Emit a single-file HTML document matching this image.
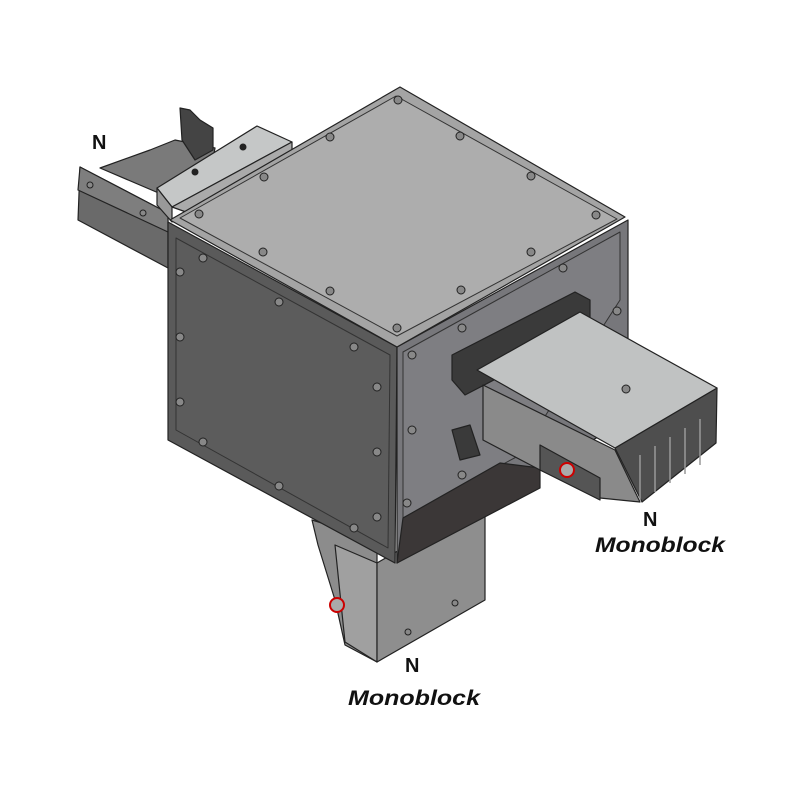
<!DOCTYPE html>
<html><head><meta charset="utf-8"><style>
html,body{margin:0;padding:0;background:#fff;}
svg{display:block}
text{font-family:"Liberation Sans",Arial,sans-serif;font-weight:bold;fill:#111}
</style></head><body>
<svg width="800" height="800" viewBox="0 0 800 800" xmlns="http://www.w3.org/2000/svg">
<g stroke="#222" stroke-width="1.2" stroke-linejoin="round">
<!-- left duct -->
<polygon points="100,168 150,150 175,140 215,148 212,165 175,200" fill="#7a7a7a"/>
<polygon points="180,108 190,110 200,120 213,128 213,150 195,160 182,140" fill="#444"/>
<polygon points="80,167 168,213 168,268 78,220" fill="#6a6a6a"/>
<polygon points="80,167 168,213 168,232 78,190" fill="#7e7e7e"/>
<polygon points="157,188 257,126 292,142 172,207" fill="#c5c7c7"/>
<polygon points="172,207 292,142 292,160 186,212" fill="#aaa"/>
<polygon points="157,188 172,207 172,222 157,205" fill="#999"/>
<!-- bottom duct -->
<polygon points="312,520 377,540 377,662 345,645 335,600 318,545" fill="#8c8c8c"/>
<polygon points="335,545 377,563 377,662 345,642" fill="#a0a0a0"/>
<polygon points="377,563 485,500 485,600 377,662" fill="#8e8e8e"/>
<!-- cube left face -->
<polygon points="168,222 397,347 395,563 168,440" fill="#5a5a5a"/>
<polygon points="176,238 390,355 388,548 176,430" fill="#5c5c5c" stroke="#333" stroke-width="1"/>
<!-- right face -->
<polygon points="397,347 628,220 628,420 540,470 397,563" fill="#77777b"/>
<polygon points="403,352 620,232 620,300 520,455 403,518" fill="#7e7e82" stroke="#333" stroke-width="1"/>
<polygon points="403,518 500,463 540,468 540,488 397,563" fill="#3b3737"/>
<!-- top face -->
<polygon points="400,87 625,217 397,347 170,220" fill="#a4a4a4"/>
<polygon points="396,96 617,219 397,336 180,218" fill="#adadad" stroke="#333" stroke-width="1"/>
<!-- right monoblock -->
<polygon points="452,355 575,292 590,300 590,330 465,395 452,380" fill="#3a3a3a"/>
<polygon points="452,430 470,425 480,455 460,460" fill="#3a3a3a"/>
<polygon points="483,385 615,450 640,502 600,498 540,470 483,440" fill="#8a8a8a"/>
<polygon points="540,445 600,478 600,500 540,470" fill="#555"/>
<polygon points="615,448 717,388 716,443 642,502" fill="#4e4e4e"/>
<polygon points="477,370 580,312 717,388 615,448" fill="#c0c2c2"/>
</g>
<!-- vent ribs -->
<g stroke="#999" stroke-width="1.5">
<line x1="640" y1="455" x2="640" y2="500"/><line x1="655" y1="446" x2="655" y2="492"/>
<line x1="670" y1="437" x2="670" y2="483"/><line x1="685" y1="428" x2="685" y2="474"/>
<line x1="700" y1="419" x2="700" y2="465"/>
</g>
<!-- nuts -->
<circle cx="567" cy="470" r="7" fill="#aaa" stroke="#c00" stroke-width="2"/>
<circle cx="337" cy="605" r="7" fill="#aaa" stroke="#c00" stroke-width="2"/>
<!-- screws -->
<g fill="#888" stroke="#222" stroke-width="1">
<circle cx="398" cy="100" r="4"/><circle cx="330" cy="137" r="4"/><circle cx="460" cy="136" r="4"/>
<circle cx="264" cy="177" r="4"/><circle cx="531" cy="176" r="4"/><circle cx="199" cy="214" r="4"/>
<circle cx="596" cy="215" r="4"/><circle cx="263" cy="252" r="4"/><circle cx="531" cy="252" r="4"/>
<circle cx="330" cy="291" r="4"/><circle cx="461" cy="290" r="4"/><circle cx="397" cy="328" r="4"/>
<circle cx="180" cy="272" r="4"/><circle cx="180" cy="337" r="4"/><circle cx="180" cy="402" r="4"/>
<circle cx="203" cy="258" r="4"/><circle cx="279" cy="302" r="4"/><circle cx="354" cy="347" r="4"/>
<circle cx="377" cy="387" r="4"/><circle cx="377" cy="452" r="4"/><circle cx="377" cy="517" r="4"/>
<circle cx="203" cy="442" r="4"/><circle cx="279" cy="486" r="4"/><circle cx="354" cy="528" r="4"/>
<circle cx="412" cy="355" r="4"/><circle cx="462" cy="328" r="4"/><circle cx="563" cy="268" r="4"/>
<circle cx="617" cy="311" r="4"/><circle cx="412" cy="430" r="4"/><circle cx="462" cy="475" r="4"/>
<circle cx="626" cy="389" r="4"/><circle cx="407" cy="503" r="4"/>
<circle cx="195" cy="172" r="3" fill="#222"/><circle cx="243" cy="147" r="3" fill="#222"/>
<circle cx="90" cy="185" r="3"/><circle cx="143" cy="213" r="3"/>
<circle cx="455" cy="603" r="3"/><circle cx="408" cy="632" r="3"/>
</g>
<!-- labels -->
<text x="92" y="149" font-size="20">N</text>
<text x="643" y="526" font-size="20">N</text>
<text x="595" y="552" font-size="21" font-style="italic" textLength="130" lengthAdjust="spacingAndGlyphs">Monoblock</text>
<text x="405" y="672" font-size="20">N</text>
<text x="348" y="705" font-size="21" font-style="italic" textLength="132" lengthAdjust="spacingAndGlyphs">Monoblock</text>
</svg>
</body></html>
